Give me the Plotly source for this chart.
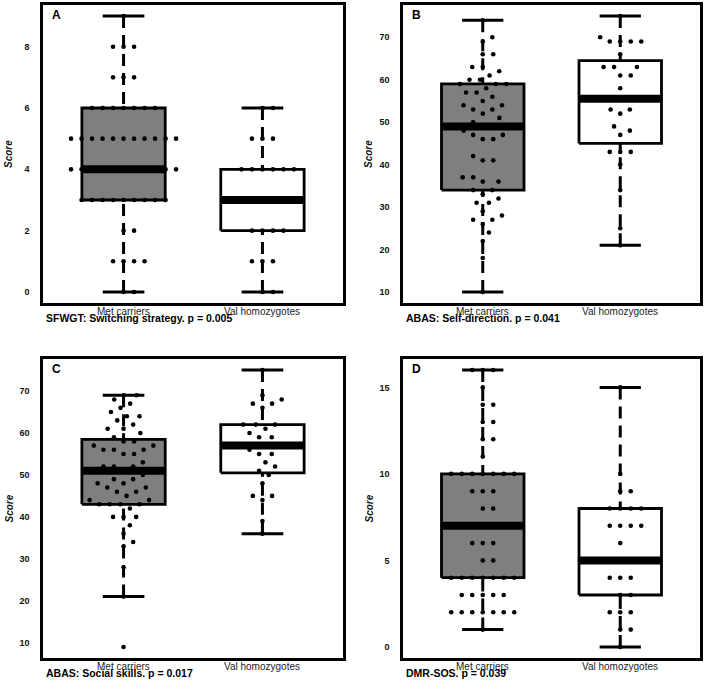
import math
import plotly.graph_objects as go

W, H = 708, 684

group_labels = ["Met carriers", "Val homozygotes"]
panel_letters = ["A", "B", "C", "D"]
captions = [
    "SFWGT: Switching strategy. p = 0.005",
    "ABAS: Self-direction. p = 0.041",
    "ABAS: Social skills. p = 0.017",
    "DMR-SOS. p = 0.039",
]

# ---- individual scores ----
a_met = [0, 0, 1, 1, 1, 1, 2, 2,
         3, 3, 3, 3, 3, 3, 3, 3, 3,
         4, 4, 4, 4, 4, 4, 4, 4, 4, 4, 4,
         5, 5, 5, 5, 5, 5, 5, 5, 5, 5, 5,
         6, 6, 6, 6, 6, 6, 6,
         7, 7, 7, 8, 8, 8, 9]
a_val = [0, 0, 1, 1, 1, 2, 2, 2, 2, 3, 3, 3, 3,
         4, 4, 4, 4, 4, 4, 5, 5, 5, 6, 6]

b_met = [10, 18, 22, 24, 26, 27, 27, 28, 29, 31, 31, 32, 33, 34, 34,
         36, 36, 37, 37, 41, 41, 42, 46, 46, 47, 47, 48, 49, 49, 50,
         51, 52, 53, 53, 54, 54, 55, 56, 57, 57, 58, 59, 59, 59,
         60, 60, 61, 62, 63, 63, 66, 66, 69, 70, 74]
b_val = [21, 25, 34, 40, 43, 43, 43, 47, 48, 49, 52, 53, 53, 58,
         61, 61, 63, 63, 63, 66, 69, 69, 69, 69, 70, 75]

c_met = [9, 21, 28, 33, 34, 36, 38, 40, 40, 40, 42, 43, 43, 43, 43,
         44, 44, 45, 46, 46, 47, 47, 48, 48, 49, 49, 50, 51, 52, 52, 52,
         53, 55, 55, 56, 56, 56, 57, 57, 58, 58, 59, 60, 61, 61, 62,
         63, 64, 64, 65, 66, 67, 68, 69, 69]
c_val = [36, 39, 44, 45, 45, 48, 50, 51, 52, 53, 55, 55, 56, 57,
         59, 59, 60, 61, 62, 62, 62, 66, 67, 67, 68, 69, 75]

d_met = [1, 2, 2, 2, 2, 2, 2, 2, 3, 3, 3, 3, 3,
         4, 4, 4, 4, 4, 4, 4, 5, 5, 6, 6, 6,
         7, 7, 7, 7, 7, 8, 8, 9, 9, 9,
         10, 10, 10, 10, 10, 10, 10, 11, 12, 12, 13, 13, 14, 14, 15,
         16, 16, 16]
d_val = [0, 1, 1, 2, 2, 2, 3, 3, 4, 4, 4, 5, 5, 5, 6,
         7, 7, 7, 7, 8, 8, 8, 8, 9, 9, 10, 15]

# box statistics: [lower whisker, Q1, median, Q3, upper whisker]
a_met_stats = [0, 3, 4, 6, 9]
a_val_stats = [0, 2, 3, 4, 6]
b_met_stats = [10, 34, 49, 59, 74]
b_val_stats = [21, 45, 55.5, 64.5, 75]
c_met_stats = [21, 43, 51, 58.5, 69]
c_val_stats = [36, 50.5, 57, 62, 75]
d_met_stats = [1, 4, 7, 10, 16]
d_val_stats = [0, 3, 5, 8, 15]

a_ticks = [0, 2, 4, 6, 8]
b_ticks = [10, 20, 30, 40, 50, 60, 70]
c_ticks = [10, 20, 30, 40, 50, 60, 70]
d_ticks = [0, 5, 10, 15]

box_fills = ["#7f7f7f", "#ffffff"]

panels = [
    dict(groups=[a_met, a_val], stats=[a_met_stats, a_val_stats], ticks=a_ticks),
    dict(groups=[b_met, b_val], stats=[b_met_stats, b_val_stats], ticks=b_ticks),
    dict(groups=[c_met, c_val], stats=[c_met_stats, c_val_stats], ticks=c_ticks),
    dict(groups=[d_met, d_val], stats=[d_met_stats, d_val_stats], ticks=d_ticks),
]

# ---- layout geometry (pixels) ----
frames = [(43, 5, 343, 303), (403, 5, 700, 303), (43, 359, 343, 658), (403, 359, 700, 658)]
XR = [0.42, 2.58]
BOX_HW = 0.30
CAP_HW = 0.15
SWARM_PX = 10.5
FONT = "Liberation Sans, Arial, sans-serif"


def swarm_offsets(values, ppu_y, d):
    """beeswarm 'swarm' placement (ascending priority), offsets in px"""
    n = len(values)
    order = sorted(range(n), key=lambda i: values[i])
    placed = []
    offs = [0.0] * n
    for k, i in enumerate(order):
        yi = values[i] * ppu_y / d
        if k == 0:
            placed.append((yi, 0.0))
            continue
        pre = [(py, px) for (py, px) in placed if yi - py < 1]
        if not pre:
            placed.append((yi, 0.0))
            continue
        pre = sorted(pre, key=lambda t: abs(t[1]))
        cands = [0.0]
        pos = [px + math.sqrt(max(0.0, 1 - (yi - py) ** 2)) for (py, px) in pre]
        neg = [px - math.sqrt(max(0.0, 1 - (yi - py) ** 2)) for (py, px) in pre]
        cands += pos + neg
        best = None
        for c in cands:
            bad = any(((yi - py) ** 2 + (c - px) ** 2) < 0.999 for (py, px) in pre)
            if not bad and (best is None or abs(c) < abs(best)):
                best = c
        placed.append((yi, best))
        offs[i] = best * d
    return offs


fig = go.Figure()
layout_axes = {}
annotations = []

for p, (panel, fr) in enumerate(zip(panels, frames)):
    x0, y0, x1, y1 = fr
    sfx = "" if p == 0 else str(p + 1)
    xa, ya = "x" + sfx, "y" + sfx
    allv = panel["groups"][0] + panel["groups"][1]
    lo, hi = min(allv), max(allv)
    pad = 0.04 * (hi - lo)
    yr = [lo - pad, hi + pad]
    ppu_x = (x1 - x0) / (XR[1] - XR[0])
    ppu_y = (y1 - y0) / (yr[1] - yr[0])

    for g, (vals, st) in enumerate(zip(panel["groups"], panel["stats"])):
        c = g + 1
        wlo, q1, med, q3, whi = st
        fig.add_trace(go.Scatter(
            x=[c - BOX_HW, c + BOX_HW, c + BOX_HW, c - BOX_HW, c - BOX_HW],
            y=[q1, q1, q3, q3, q1], mode="lines", fill="toself",
            fillcolor=box_fills[g], line=dict(color="black", width=2.8),
            xaxis=xa, yaxis=ya, hoverinfo="skip", showlegend=False))
        fig.add_trace(go.Scatter(
            x=[c - BOX_HW, c + BOX_HW], y=[med, med], mode="lines",
            line=dict(color="black", width=8), xaxis=xa, yaxis=ya,
            hoverinfo="skip", showlegend=False))
        for a, b in ((whi, q3), (wlo, q1)):
            fig.add_trace(go.Scatter(
                x=[c, c], y=[a, b], mode="lines",
                line=dict(color="black", width=3, dash="12px,7px"),
                xaxis=xa, yaxis=ya, hoverinfo="skip", showlegend=False))
        for v in (whi, wlo):
            fig.add_trace(go.Scatter(
                x=[c - CAP_HW, c + CAP_HW], y=[v, v], mode="lines",
                line=dict(color="black", width=3), xaxis=xa, yaxis=ya,
                hoverinfo="skip", showlegend=False))
        offs = swarm_offsets(vals, ppu_y, SWARM_PX)
        fig.add_trace(go.Scatter(
            x=[c + o / ppu_x for o in offs], y=vals, mode="markers",
            marker=dict(color="black", size=4.6, line=dict(width=0)),
            xaxis=xa, yaxis=ya, hoverinfo="y", showlegend=False))

        annotations.append(dict(
            text=group_labels[g], xref=xa, yref="paper",
            x=c, y=1 - (y1 + 8) / H, xanchor="center", yanchor="middle",
            showarrow=False, font=dict(family=FONT, size=10, color="#222")))

    layout_axes["xaxis" + sfx] = dict(
        domain=[x0 / W, x1 / W], range=XR, anchor=ya,
        showticklabels=False, ticks="",
        showline=True, mirror=True, linecolor="black", linewidth=2.5,
        showgrid=False, zeroline=False, fixedrange=True)
    layout_axes["yaxis" + sfx] = dict(
        domain=[1 - y1 / H, 1 - y0 / H], range=yr, anchor=xa,
        tickvals=panel["ticks"], ticktext=["<b>%g</b>" % t for t in panel["ticks"]],
        ticks="", ticklabelstandoff=9,
        tickfont=dict(family=FONT, size=9, color="#111"),
        showline=True, mirror=True, linecolor="black", linewidth=2.5,
        showgrid=False, zeroline=False, fixedrange=True)

    annotations.append(dict(
        text="<b>%s</b>" % panel_letters[p], xref="paper", yref="paper",
        x=(x0 + 7) / W, y=1 - (y0 + 10) / H, xanchor="left", yanchor="middle",
        showarrow=False, font=dict(family=FONT, size=12, color="black")))
    annotations.append(dict(
        text="<b>%s</b>" % captions[p], xref="paper", yref="paper",
        x=(x0 + 1) / W, y=1 - (y1 + 15) / H, xanchor="left", yanchor="middle",
        showarrow=False, font=dict(family=FONT, size=10.5, color="black")))
    annotations.append(dict(
        text="<b><i>Score</i></b>", xref="paper", yref="paper",
        x=(x0 - 34) / W, y=1 - ((y0 + y1) / 2) / H, xanchor="center", yanchor="middle",
        textangle=-90, showarrow=False,
        font=dict(family=FONT, size=10, color="#111")))

fig.update_layout(
    width=W, height=H, margin=dict(l=0, r=0, t=0, b=0),
    paper_bgcolor="white", plot_bgcolor="white",
    annotations=annotations, showlegend=False, **layout_axes)

fig.write_html("out.html", config={"displayModeBar": False},
               post_script="document.body.style.margin='0';document.body.style.padding='0';")
